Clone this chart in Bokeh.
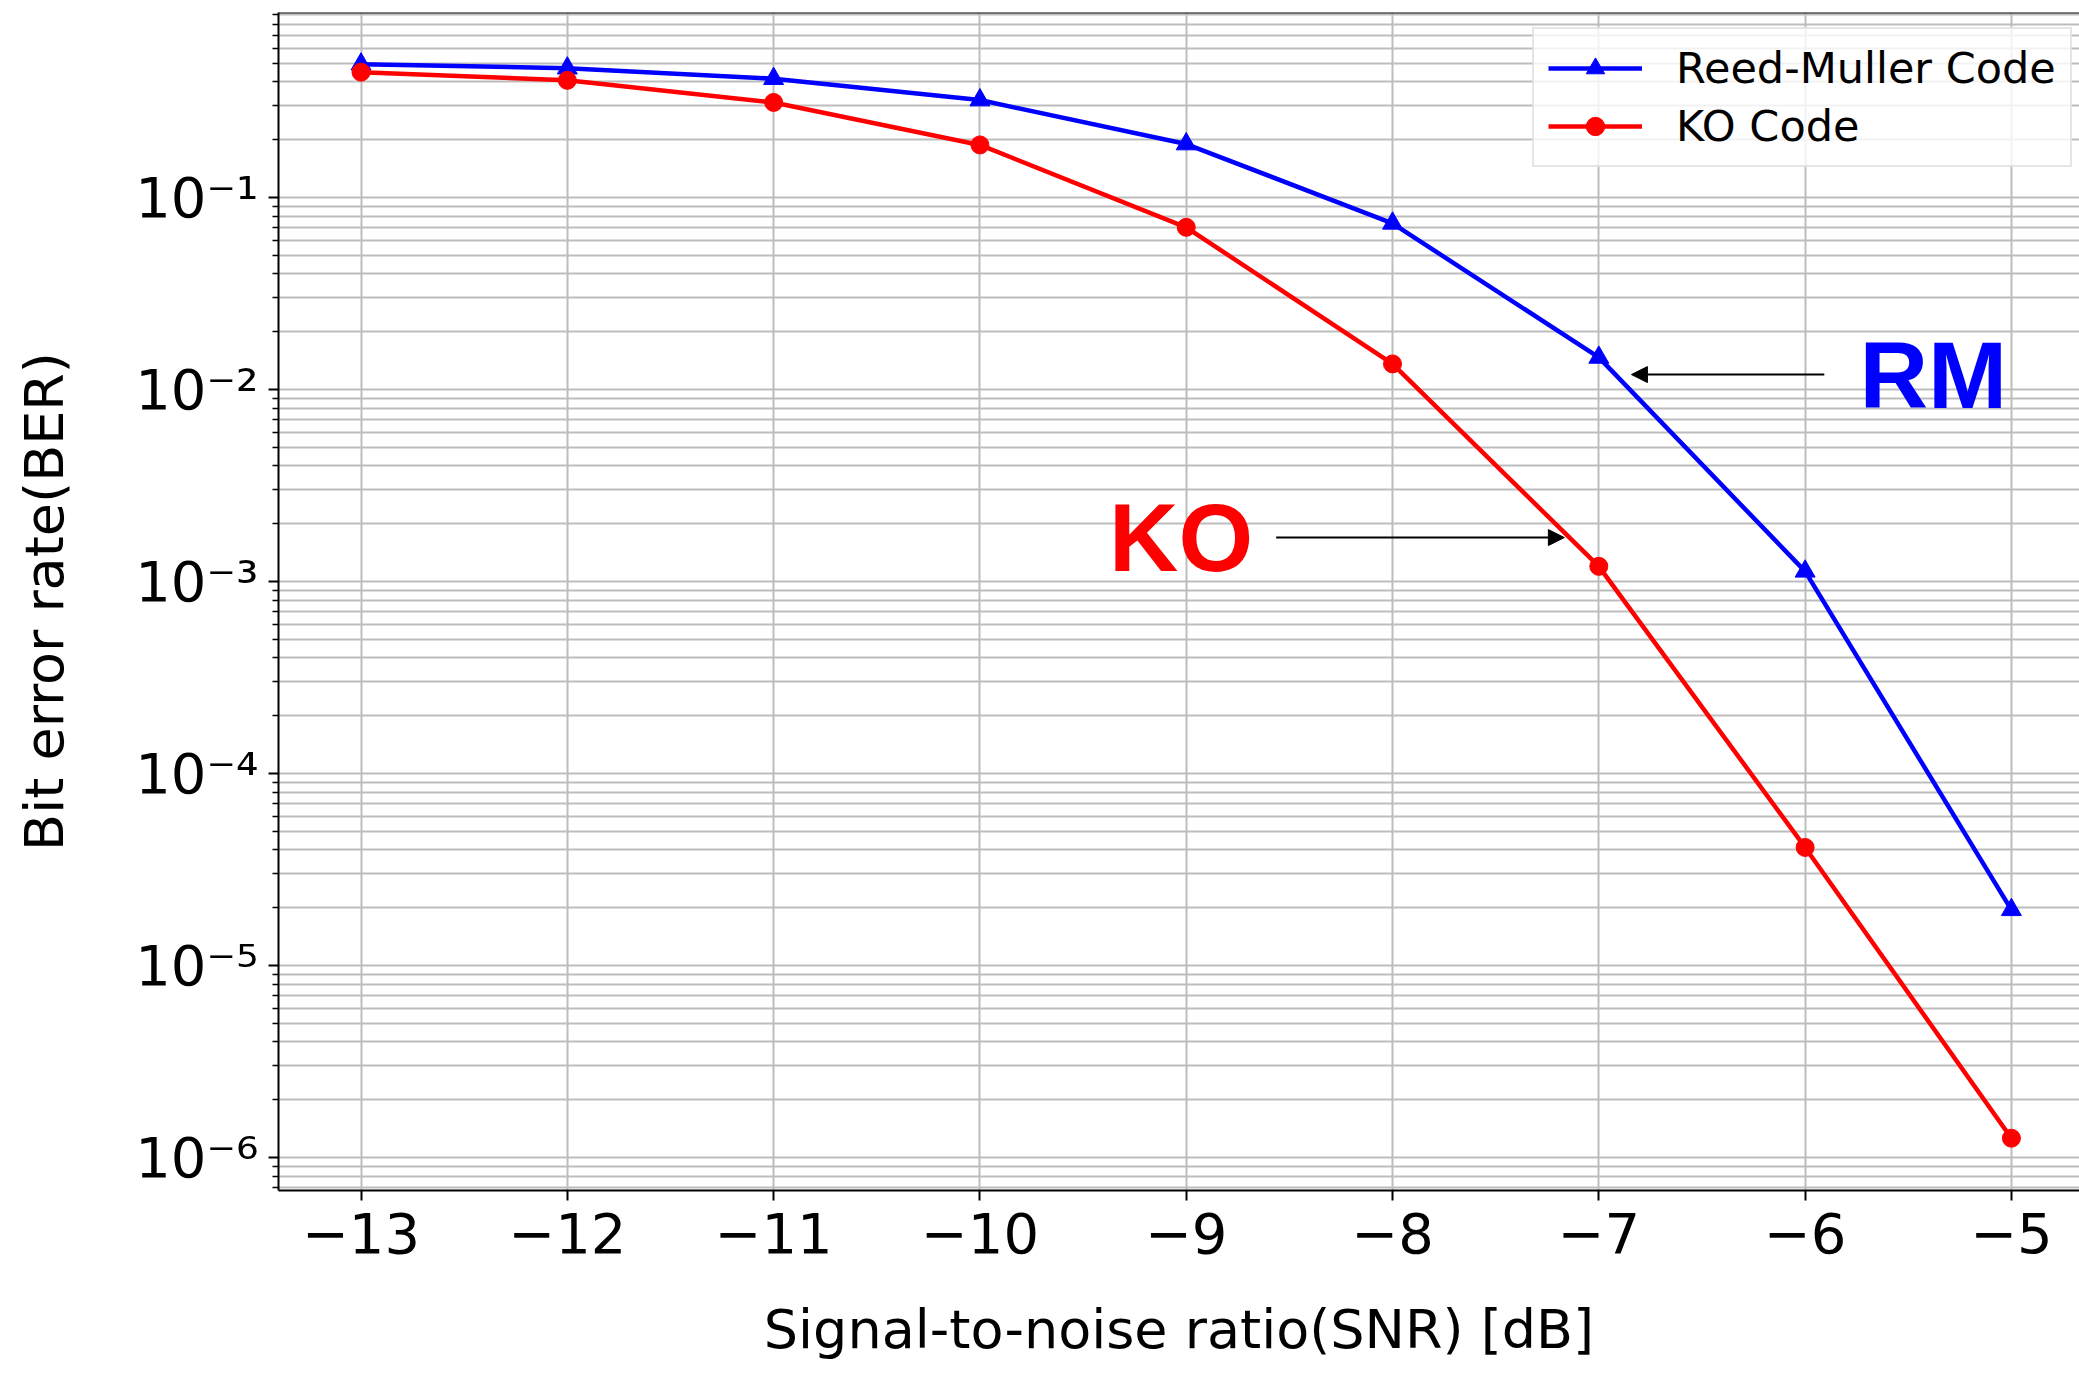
from bokeh.plotting import figure
from bokeh.models import (Range1d, CustomJSTickFormatter, FixedTicker, Span, Arrow,
                          NormalHead, Label, Legend, LegendItem)
from bokeh.embed import file_html
from bokeh.resources import INLINE

# ---------------- data ----------------
snr = [-13, -12, -11, -10, -9, -8, -7, -6, -5]
ber_rm = [0.495, 0.472, 0.416, 0.322, 0.190, 0.0734, 0.0147, 1.13e-3, 1.95e-5]
ber_ko = [0.450, 0.408, 0.313, 0.188, 0.070, 0.0136, 1.20e-3, 4.12e-5, 1.26e-6]
series_names = ["Reed-Muller Code", "KO Code"]
x_ticks = [-13, -12, -11, -10, -9, -8, -7, -6, -5]
y_tick_exponents = [-6, -5, -4, -3, -2, -1]
y_minor_mantissas = [2, 3, 4, 5, 6, 7, 8, 9]
x_label = "Signal-to-noise ratio(SNR) [dB]"
y_label = "Bit error rate(BER)"
annot_rm = "RM"
annot_ko = "KO"

# annotation anchors (data units)
rm_text_x, rm_text_y = -5.737, 0.01197
rm_arrow = (-5.907, 0.01197, -6.842, 0.01197)
ko_text_x, ko_text_y = -9.374, 1.694e-3
ko_arrow = (-8.564, 1.694e-3, -7.167, 1.694e-3)

x_start, x_end = -13.40, -4.670
y_start, y_end = 10 ** -6.172, 10 ** -0.036

p = figure(width=2079, height=1373, y_axis_type="log",
           x_range=Range1d(x_start, x_end), y_range=Range1d(y_start, y_end),
           output_backend="svg", toolbar_location=None,
           min_border_left=278, min_border_right=0, min_border_top=12,
           min_border_bottom=183)
p.outline_line_color = None
p.background_fill_color = "white"
p.border_fill_color = "white"

# axes
for ax in (p.xaxis[0], p.yaxis[0]):
    ax.axis_line_width = 2
    ax.axis_line_color = "black"
    ax.major_tick_line_width = 2
    ax.major_tick_line_color = "black"
    ax.major_tick_out = 10
    ax.major_tick_in = 0
    ax.major_label_text_font = "DejaVu Sans"
    ax.major_label_text_font_size = "56px"
    ax.major_label_text_color = "black"
    ax.axis_label_text_font = "DejaVu Sans"
    ax.axis_label_text_font_size = "54px"
    ax.axis_label_text_font_style = "normal"
    ax.axis_label_text_color = "black"

p.xaxis.axis_label = x_label
p.yaxis.axis_label = y_label
p.xaxis.ticker = FixedTicker(ticks=x_ticks)
p.xaxis.minor_tick_line_color = None
p.xaxis.major_label_standoff = 12
p.xaxis.axis_label_standoff = 42
p.xaxis.formatter = CustomJSTickFormatter(code="return String(tick).replace('-', '\\u2212');")

y_major = [10.0 ** e for e in y_tick_exponents]
y_minor = [m * 10.0 ** e for e in range(min(y_tick_exponents) - 1, max(y_tick_exponents) + 1)
           for m in y_minor_mantissas]
yt = FixedTicker(ticks=y_major, minor_ticks=y_minor)
p.yaxis.ticker = yt
p.ygrid.ticker = yt
p.yaxis.minor_tick_line_color = "black"
p.yaxis.minor_tick_line_width = 1.5
p.yaxis.minor_tick_out = 6
p.yaxis.minor_tick_in = 0
p.yaxis.major_label_standoff = 10
p.yaxis.axis_label_standoff = 56
p.yaxis.formatter = CustomJSTickFormatter(code=r"""
const e = Math.round(Math.log10(tick));
const m = {'-':'\u207b','0':'\u2070','1':'\u00b9','2':'\u00b2','3':'\u00b3','4':'\u2074',
           '5':'\u2075','6':'\u2076','7':'\u2077','8':'\u2078','9':'\u2079'};
return '10' + String(e).split('').map(c => m[c]).join('');
""")

# grid
grid_col = "#bdbdbd"
p.xgrid.grid_line_color = grid_col
p.xgrid.grid_line_width = 2
p.ygrid.grid_line_color = grid_col
p.ygrid.grid_line_width = 2
p.ygrid.minor_grid_line_color = grid_col
p.ygrid.minor_grid_line_width = 2

# top spine
p.add_layout(Span(location=y_end, dimension="width", line_color="black", line_width=2))

# series
l1 = p.line(snr, ber_rm, line_color="blue", line_width=4.5)
s1 = p.scatter(snr, ber_rm, marker="triangle", size=20, fill_color="blue", line_color="blue")
l2 = p.line(snr, ber_ko, line_color="red", line_width=4.5)
s2 = p.scatter(snr, ber_ko, marker="circle", size=18, fill_color="red", line_color="red")

legend = Legend(items=[LegendItem(label=series_names[0], renderers=[l1, s1]),
                       LegendItem(label=series_names[1], renderers=[l2, s2])],
                location=(1254, 1023))
legend.label_text_font = "DejaVu Sans"
legend.label_text_font_size = "43px"
legend.label_text_color = "black"
legend.glyph_width = 94
legend.glyph_height = 46
legend.label_height = 46
legend.spacing = 8
legend.padding = 14
legend.label_standoff = 34
legend.margin = 0
legend.border_line_color = "#cccccc"
legend.border_line_width = 2
legend.background_fill_color = "white"
legend.background_fill_alpha = 0.8
p.add_layout(legend)

# annotations
p.add_layout(Arrow(end=NormalHead(size=16, fill_color="black", line_color="black"),
                   x_start=rm_arrow[0], y_start=rm_arrow[1], x_end=rm_arrow[2], y_end=rm_arrow[3],
                   line_color="black", line_width=2))
p.add_layout(Arrow(end=NormalHead(size=16, fill_color="black", line_color="black"),
                   x_start=ko_arrow[0], y_start=ko_arrow[1], x_end=ko_arrow[2], y_end=ko_arrow[3],
                   line_color="black", line_width=2))
p.add_layout(Label(x=rm_text_x, y=rm_text_y, text=annot_rm, text_font="Liberation Sans",
                   text_font_style="bold", text_font_size="95px", text_color="blue",
                   text_baseline="alphabetic", text_align="left"))
p.add_layout(Label(x=ko_text_x, y=ko_text_y, text=annot_ko, text_font="Liberation Sans",
                   text_font_style="bold", text_font_size="96px", text_color="red",
                   text_baseline="alphabetic", text_align="left"))

open("out.html", "w").write(file_html(p, INLINE))
